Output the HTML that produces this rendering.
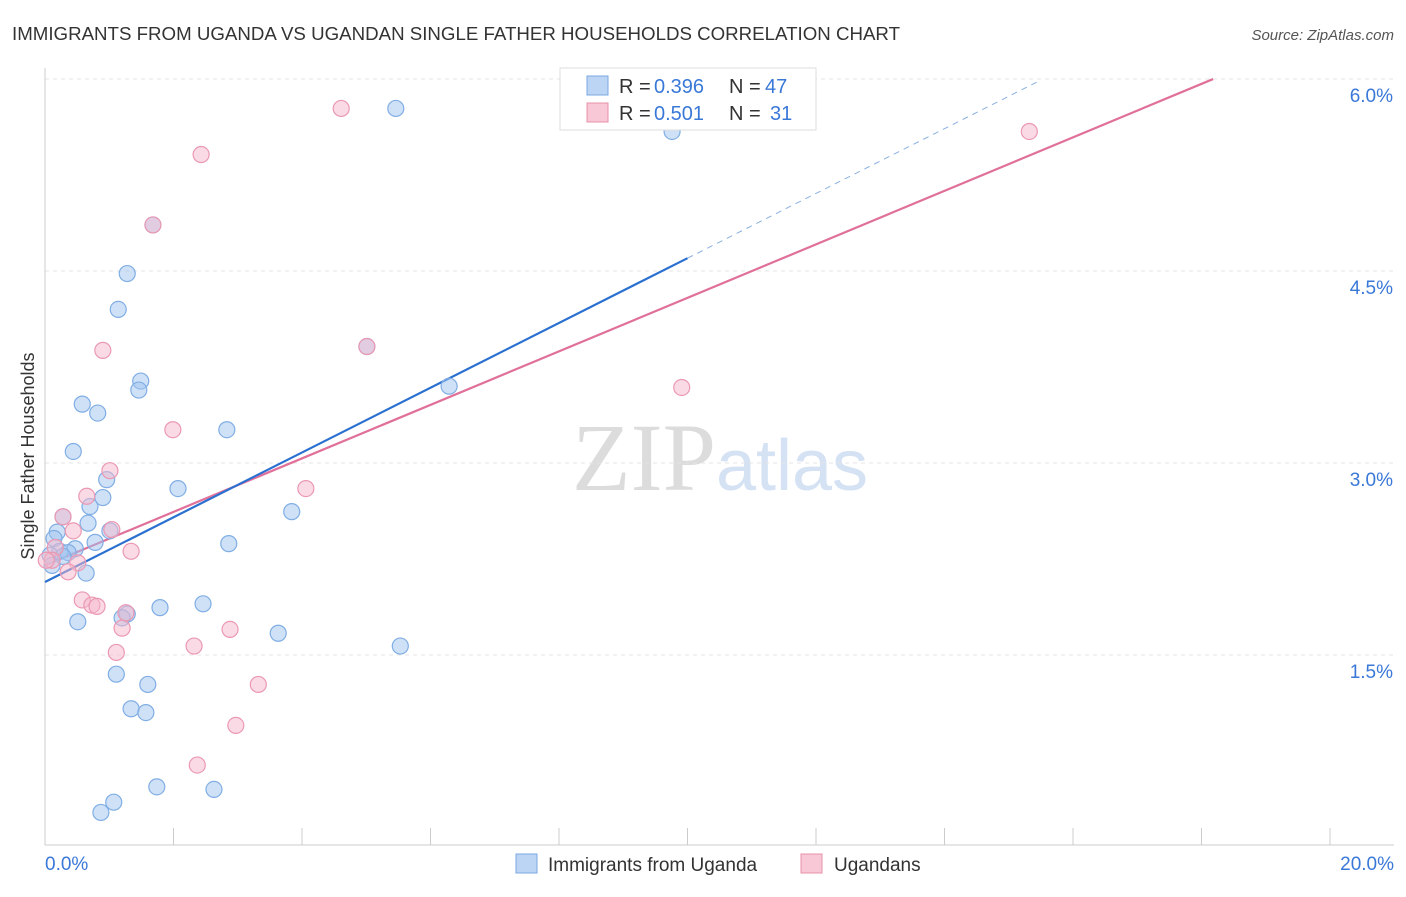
<!DOCTYPE html>
<html><head><meta charset="utf-8"><style>
body{margin:0;background:#fff;font-family:"Liberation Sans",sans-serif;}
svg text{font-family:"Liberation Sans",sans-serif;}
</style></head><body>
<svg id="chart" width="1406" height="892" xmlns="http://www.w3.org/2000/svg">
<text x="12" y="40" font-size="18" fill="#333" textLength="888" lengthAdjust="spacingAndGlyphs">IMMIGRANTS FROM UGANDA VS UGANDAN SINGLE FATHER HOUSEHOLDS CORRELATION CHART</text>
<text x="1394" y="40" font-size="15" fill="#555" text-anchor="end" font-style="italic">Source: ZipAtlas.com</text>
<text x="720" y="490" font-size="96" text-anchor="middle"><tspan fill="#dcdcdc" font-family="Liberation Serif">ZIP</tspan><tspan fill="#d4e2f4" font-size="72">atlas</tspan></text>
<text transform="translate(34,456) rotate(-90)" font-size="18" fill="#333" text-anchor="middle">Single Father Households</text>
<g id="grid"></g><g id="axes"></g><g id="lines"></g><g id="pts"></g>
<g>
<rect x="560" y="68" width="256" height="62" fill="#fff" stroke="#ddd"/>
<rect x="587" y="76" width="21" height="19" fill="#bcd5f5" stroke="#7aa8e0"/>
<rect x="587" y="103" width="21" height="19" fill="#f8c8d6" stroke="#e890a8"/>
<text x="619" y="93" font-size="20" fill="#333">R =</text>
<text x="654" y="93" font-size="20" fill="#3a78d8">0.396</text>
<text x="729" y="93" font-size="20" fill="#333">N =</text>
<text x="765" y="93" font-size="20" fill="#3a78d8">47</text>
<text x="619" y="120" font-size="20" fill="#333">R =</text>
<text x="654" y="120" font-size="20" fill="#3a78d8">0.501</text>
<text x="729" y="120" font-size="20" fill="#333">N =</text>
<text x="770" y="120" font-size="20" fill="#3a78d8">31</text>
</g>
<g>
<rect x="516" y="854" width="21" height="19" fill="#bcd5f5" stroke="#7aa8e0"/>
<text x="548" y="871" font-size="19" fill="#333">Immigrants from Uganda</text>
<rect x="801" y="854" width="21" height="19" fill="#f8c8d6" stroke="#e890a8"/>
<text x="834" y="871" font-size="19" fill="#333">Ugandans</text>
</g>
</svg>
<script>
const xTicks=[0,2,4,6,8,10,12,14,16,18,20];
const yTicks=[1.5,3.0,4.5,6.0];
const yTickLabels=["1.5%","3.0%","4.5%","6.0%"];
const blueX=[5.46,9.76,1.68,1.28,1.14,1.49,1.46,0.58,0.82,0.44,2.83,6.29,5.01,2.07,0.96,0.90,0.70,0.28,0.67,3.84,0.19,1.01,0.14,0.78,2.86,0.47,0.23,0.36,0.08,0.28,0.11,0.64,1.28,1.79,2.46,0.51,1.20,3.63,5.53,1.11,1.60,1.34,1.57,1.74,2.63,1.07,0.87];
const blueY=[5.77,5.59,4.86,4.48,4.20,3.64,3.57,3.46,3.39,3.09,3.26,3.60,3.91,2.80,2.87,2.73,2.66,2.58,2.53,2.62,2.46,2.47,2.41,2.38,2.37,2.33,2.31,2.30,2.28,2.27,2.20,2.14,1.82,1.87,1.90,1.76,1.79,1.67,1.57,1.35,1.27,1.08,1.05,0.47,0.45,0.35,0.27];
const pinkX=[4.61,15.32,2.43,1.68,0.90,5.01,1.99,9.91,1.01,4.06,0.65,0.28,0.44,1.04,1.34,0.16,0.11,0.51,0.36,0.58,0.73,0.81,1.26,1.20,2.88,2.32,1.11,3.32,2.97,2.37,0.02];
const pinkY=[5.77,5.59,5.41,4.86,3.88,3.91,3.26,3.59,2.94,2.80,2.74,2.58,2.47,2.48,2.31,2.34,2.24,2.22,2.15,1.93,1.89,1.88,1.83,1.71,1.70,1.57,1.52,1.27,0.95,0.64,2.24];
const blueTrend=[2.07,0.253];
const pinkTrend=[2.20,0.209];
const X=v=>45+v*64.25, Y=v=>847-v*128;
const NS="http://www.w3.org/2000/svg";
function mk(p,t,a){const e=document.createElementNS(NS,t);for(const k in a)e.setAttribute(k,a[k]);document.getElementById(p).appendChild(e);return e;}
yTicks.forEach((v,i)=>{
 const l=mk('grid','line',{x1:45,x2:1394,y1:Y(v),y2:Y(v),stroke:'#e4e4e4','stroke-dasharray':'4,4'});
 
 
 const t=mk('axes','text',{x:1393,y:Y(v)+23,'font-size':19,fill:'#3a78d8','text-anchor':'end'});
 t.textContent=yTickLabels[i];
 
 
});
const ax=mk('axes','line',{x1:45,x2:1394,y1:845,y2:845,stroke:'#ccc'});


const ay=mk('axes','line',{x1:45,x2:45,y1:68,y2:845,stroke:'#ccc'});


xTicks.forEach(v=>{const t=mk('axes','line',{x1:X(v),x2:X(v),y1:828,y2:845,stroke:'#ccc'});
 
 });
[[0,"0.0%",45,'start'],[20,"20.0%",1394,'end']].forEach(d=>{const t=mk('axes','text',{x:d[2],y:870,'font-size':19,fill:'#3a78d8','text-anchor':d[3]});t.textContent=d[1];
 
 });
function line(tr,x0,x1,col,dash,name){const e=mk('lines','line',{x1:X(x0),y1:Y(tr[0]+tr[1]*x0),x2:X(x1),y2:Y(tr[0]+tr[1]*x1),stroke:col,'stroke-width':dash?1:2.2,'stroke-dasharray':dash?'6,5':'none'});
 
 }
line(blueTrend,10,15.49,'#8ab0e0',true,'blue-trend-extension');
line(pinkTrend,0,18.18,'#e0709a',false,'pink-trend-line');
line(blueTrend,0,10,'#2a70d0',false,'blue-trend-line');
blueX.forEach((v,i)=>{const c=mk('pts','circle',{cx:X(v),cy:Y(blueY[i]),r:8,fill:'rgba(160,196,240,0.5)',stroke:'#80aee4','stroke-width':1.2});
 
 });
pinkX.forEach((v,i)=>{const c=mk('pts','circle',{cx:X(v),cy:Y(pinkY[i]),r:8,fill:'rgba(246,184,204,0.5)',stroke:'#eb98b2','stroke-width':1.2});
 
 });
</script>
</body></html>
